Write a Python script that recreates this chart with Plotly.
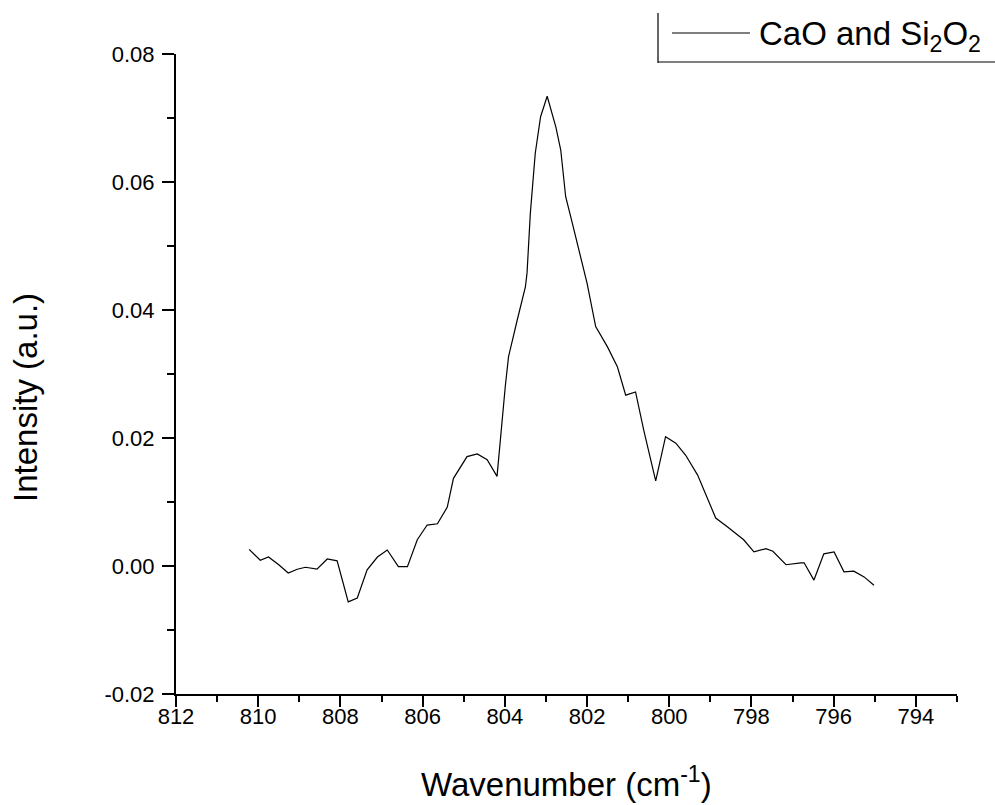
import plotly.graph_objects as go

wavenumber = [810.22, 809.95, 809.75, 809.5, 809.27, 809.05, 808.85, 808.57, 808.32, 808.08,
              807.81, 807.59, 807.35, 807.1, 806.86, 806.59, 806.37, 806.13, 805.89, 805.64,
              805.4, 805.25, 804.92, 804.67, 804.43, 804.19, 803.99, 803.91, 803.7, 803.5,
              803.46, 803.38, 803.26, 803.13, 802.97, 802.76, 802.64, 802.52, 802.36, 802.16,
              802.0, 801.79, 801.5, 801.26, 801.06, 800.82, 800.62, 800.33, 800.09, 799.84,
              799.6, 799.31, 799.06, 798.87, 798.58, 798.43, 798.19, 797.94, 797.65, 797.48,
              797.16, 796.8, 796.72, 796.48, 796.24, 795.99, 795.75, 795.51, 795.26, 795.02]
intensity = [0.0026, 0.0009, 0.0014, 0.0002, -0.0011, -0.0005, -0.0002, -0.0005, 0.0011, 0.0008,
             -0.0056, -0.0050, -0.0006, 0.0014, 0.0025, -0.0001, -0.0001, 0.0041, 0.0064, 0.0066,
             0.0092, 0.0137, 0.0171, 0.0175, 0.0166, 0.0140, 0.0280, 0.0327, 0.0384, 0.0436,
             0.0458, 0.0551, 0.0645, 0.0702, 0.0734, 0.0686, 0.0650, 0.0577, 0.0536, 0.0483,
             0.0442, 0.0374, 0.0342, 0.0311, 0.0267, 0.0272, 0.0212, 0.0133, 0.0202, 0.0192,
             0.0173, 0.0142, 0.0103, 0.0075, 0.0061, 0.0053, 0.0041, 0.0022, 0.0027, 0.0023,
             0.0002, 0.0005, 0.0005, -0.0022, 0.0019, 0.0022, -0.0009, -0.0008, -0.0017, -0.0030]

x_ticks = [812, 810, 808, 806, 804, 802, 800, 798, 796, 794]
y_ticks = [-0.02, 0.0, 0.02, 0.04, 0.06, 0.08]
y_ticklabels = ["-0.02", "0.00", "0.02", "0.04", "0.06", "0.08"]

series_name = "CaO and Si<sub>2</sub>O<sub>2</sub>"
x_title = "Wavenumber (cm<sup>-1</sup>)"
y_title = "Intensity (a.u.)"

FONT = "Arial, Liberation Sans, sans-serif"

fig = go.Figure()
fig.add_trace(go.Scatter(x=wavenumber, y=intensity, mode="lines",
                         line=dict(color="black", width=1.2), name=series_name,
                         showlegend=False))

L, R, T, B = 176, 38, 54, 111
W, H = 995, 805
pw, ph = W - L - R, H - T - B

def px(xp):
    return (xp - L) / pw

def py(yp):
    return (H - B - yp) / ph

fig.update_layout(
    width=W, height=H,
    margin=dict(l=L, r=R, t=T, b=B, autoexpand=False),
    paper_bgcolor="white", plot_bgcolor="white",
    font=dict(family=FONT, color="black", size=22),
    xaxis=dict(range=[812, 793], tickmode="array", tickvals=x_ticks,
               ticks="outside", ticklen=11, tickwidth=1.5, tickcolor="black",
               ticklabelstandoff=-9,
               showline=True, linecolor="black", linewidth=2, showgrid=False, zeroline=False,
               minor=dict(dtick=1, tick0=793, ticks="outside", ticklen=6, tickwidth=1.5, tickcolor="black", showgrid=False),
               tickfont=dict(size=22)),
    yaxis=dict(range=[-0.02, 0.08], tickmode="array", tickvals=y_ticks, ticktext=y_ticklabels,
               ticks="outside", ticklen=12, tickwidth=1.5, tickcolor="black",
               ticklabelstandoff=3,
               showline=True, linecolor="black", linewidth=2, showgrid=False, zeroline=False,
               minor=dict(dtick=0.01, tick0=-0.02, ticks="outside", ticklen=7, tickwidth=1.5, tickcolor="black", showgrid=False),
               tickfont=dict(size=22)),
)

# axis titles
fig.add_annotation(xref="paper", yref="paper", x=px(566), y=py(782), xanchor="center", yanchor="middle",
                   text=x_title, showarrow=False, font=dict(size=33, family=FONT, color="black"))
fig.add_annotation(xref="paper", yref="paper", x=px(25), y=py(398), xanchor="center", yanchor="middle",
                   text=y_title, textangle=-90, showarrow=False, font=dict(size=33, family=FONT, color="black"))

# legend box (only left & bottom edges visible) with sample line and label
fig.add_shape(type="line", xref="paper", yref="paper", x0=px(658), x1=px(658), y0=py(13), y1=py(63),
              line=dict(color="black", width=1.2))
fig.add_shape(type="line", xref="paper", yref="paper", x0=px(658), x1=px(995), y0=py(62), y1=py(62),
              line=dict(color="black", width=1.2))
fig.add_shape(type="line", xref="paper", yref="paper", x0=px(672), x1=px(750), y0=py(33), y1=py(33),
              line=dict(color="black", width=1.2))
fig.add_annotation(xref="paper", yref="paper", x=px(757), y=py(36), xanchor="left", yanchor="middle",
                   text=series_name, showarrow=False, font=dict(size=33, family=FONT, color="black"))

fig.write_html("out.html")
